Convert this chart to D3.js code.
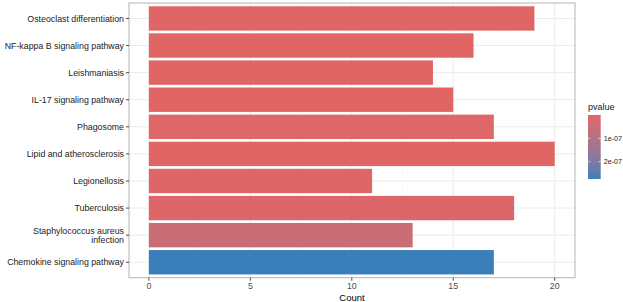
<!DOCTYPE html>
<html>
<head>
<meta charset="utf-8">
<script src="https://cdn.jsdelivr.net/npm/d3@7"></script>
<style>
  body { margin: 0; background: #fff; }
  svg { font-family: "Liberation Sans", Arial, sans-serif; }
</style>
</head>
<body>
<svg id="chart" width="623" height="302"></svg>
<script>
// pathways, top to bottom
const terms = [
    "Osteoclast differentiation",
    "NF-kappa B signaling pathway",
    "Leishmaniasis",
    "IL-17 signaling pathway",
    "Phagosome",
    "Lipid and atherosclerosis",
    "Legionellosis",
    "Tuberculosis",
    "Staphylococcus aureus infection",
    "Chemokine signaling pathway"
];
const counts = [19, 16, 14, 15, 17, 20, 11, 18, 13, 17];
const pvalues = [1e-10, 2e-10, 3e-10, 4e-10, 4e-9, 1e-9, 2e-9, 7e-9, 5.5e-8, 2.74e-7];
const xTicks = [0, 5, 10, 15, 20];
const legendTicks = [1e-7, 2e-7];

const margin = {top: 3, right: 48, bottom: 24, left: 129};
const width = 575 - margin.left;
const height = 277.7 - margin.top;

const svg = d3.select("#chart");
const g = svg.append("g")
    .attr("transform", `translate(${margin.left},${margin.top})`);

const x = d3.scaleLinear()
    .domain([-0.98, 21])
    .range([0, width]);

const y = d3.scaleBand()
    .domain(terms)
    .range([0, height])
    .paddingInner(0.1)
    .paddingOuter(0.12);

const color = d3.scaleLinear()
    .domain(d3.extent(pvalues))
    .range(["#E06666", "#3A7EBB"])
    .interpolate(d3.interpolateLab);

// grid
const minor = [2.5, 7.5, 12.5, 17.5];
g.selectAll(".minor").data(minor).join("line")
    .attr("x1", d => x(d)).attr("x2", d => x(d))
    .attr("y1", 0).attr("y2", height)
    .attr("stroke", "#f2f2f2").attr("stroke-width", 0.5);
g.selectAll(".gx").data(xTicks).join("line")
    .attr("x1", d => x(d)).attr("x2", d => x(d))
    .attr("y1", 0).attr("y2", height)
    .attr("stroke", "#ebebeb").attr("stroke-width", 1);
g.selectAll(".gy").data(terms).join("line")
    .attr("x1", 0).attr("x2", width)
    .attr("y1", d => y(d) + y.bandwidth() / 2).attr("y2", d => y(d) + y.bandwidth() / 2)
    .attr("stroke", "#ebebeb").attr("stroke-width", 1);

// bars
g.selectAll(".bar").data(terms).join("rect")
    .attr("x", x(0))
    .attr("y", d => y(d))
    .attr("width", (d, i) => x(counts[i]) - x(0))
    .attr("height", y.bandwidth())
    .attr("fill", (d, i) => color(pvalues[i]));

// panel border
g.append("rect")
    .attr("width", width).attr("height", height)
    .attr("fill", "none").attr("stroke", "#b3b3b3").attr("stroke-width", 1);

// x axis
const xAxis = g.append("g").attr("transform", `translate(0,${height})`);
xTicks.forEach(t => {
    xAxis.append("line")
        .attr("x1", x(t)).attr("x2", x(t))
        .attr("y1", 0).attr("y2", 3)
        .attr("stroke", "#4d4d4d");
    xAxis.append("text")
        .attr("x", x(t)).attr("y", 11.6)
        .attr("text-anchor", "middle")
        .attr("font-size", 8.8)
        .attr("fill", "#4d4d4d")
        .text(t);
});

// y axis
const yAxis = g.append("g");
terms.forEach((t, i) => {
    const cy = y(t) + y.bandwidth() / 2;
    yAxis.append("line")
        .attr("x1", -3).attr("x2", 0)
        .attr("y1", cy).attr("y2", cy)
        .attr("stroke", "#4d4d4d");
    const label = yAxis.append("text")
        .attr("x", -5)
        .attr("text-anchor", "end")
        .attr("font-size", 8.8)
        .attr("fill", "#222");
    if (t === "Staphylococcus aureus infection") {
        label.append("tspan").attr("x", -5).attr("y", cy - 1.4).text("Staphylococcus aureus");
        label.append("tspan").attr("x", -5).attr("y", cy + 7.8).text("infection");
    } else {
        label.attr("y", cy + 3.2).text(t);
    }
});

// x label
svg.append("text")
    .attr("x", margin.left + width / 2)
    .attr("y", 300.5)
    .attr("text-anchor", "middle")
    .attr("font-size", 9.5)
    .text("Count");

// legend
const lx = 588, ly = 115, lw = 12.7, lh = 64;
const defs = svg.append("defs");
const grad = defs.append("linearGradient")
    .attr("id", "pgrad").attr("x1", 0).attr("x2", 0).attr("y1", 0).attr("y2", 1);
d3.range(0, 1.01, 0.1).forEach(s => {
    grad.append("stop")
        .attr("offset", s)
        .attr("stop-color", color(pvalues[0] + s * (pvalues[9] - pvalues[0])));
});
svg.append("text")
    .attr("x", lx).attr("y", 110)
    .attr("font-size", 9)
    .attr("fill", "#1a1a1a")
    .text("pvalue");
svg.append("rect")
    .attr("x", lx).attr("y", ly)
    .attr("width", lw).attr("height", lh)
    .attr("fill", "url(#pgrad)");
const ls = d3.scaleLinear().domain(d3.extent(pvalues)).range([ly, ly + lh]);
legendTicks.forEach(t => {
    svg.append("line")
        .attr("x1", lx).attr("x2", lx + 2.5)
        .attr("y1", ls(t)).attr("y2", ls(t))
        .attr("stroke", "#fff").attr("stroke-opacity", 0.6);
    svg.append("line")
        .attr("x1", lx + lw - 2.5).attr("x2", lx + lw)
        .attr("y1", ls(t)).attr("y2", ls(t))
        .attr("stroke", "#fff").attr("stroke-opacity", 0.6);
    svg.append("text")
        .attr("x", lx + lw + 3).attr("y", ls(t) + 2.6)
        .attr("font-size", 7.2)
        .attr("fill", "#1a1a1a")
        .text(d3.format(".0e")(t).replace("e-7", "e-07"));
});
</script>
</body>
</html>
